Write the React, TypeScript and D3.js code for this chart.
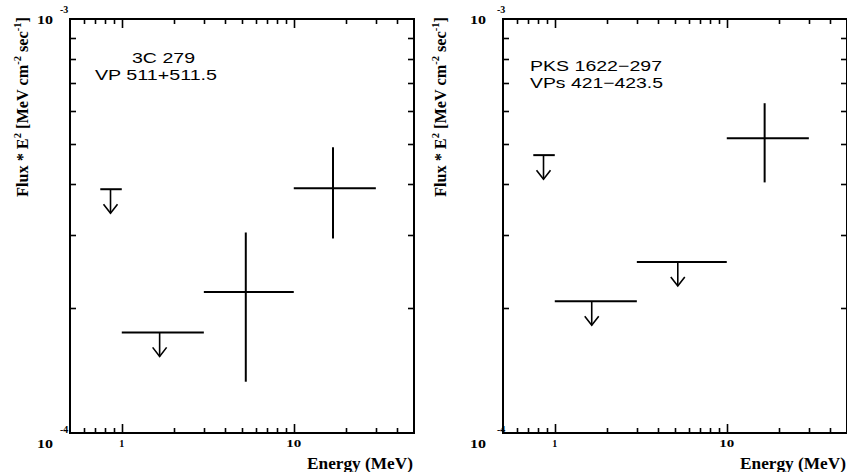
import React from 'react';
import * as d3 from 'd3';

const W = 847;
const H = 472;

// energy bins (MeV)
const binLow = [0.75, 1, 3, 10];
const binHigh = [1, 3, 10, 30];

// 3C 279, VP 511+511.5
const c279Energy = [0.86, 1.66, 5.26, 16.9];
const c279Flux = [3.88e-4, 1.75e-4, 2.19e-4, 3.9e-4];
const c279ErrHigh: (number | null)[] = [null, null, 3.05e-4, 4.9e-4];
const c279ErrLow: (number | null)[] = [null, null, 1.33e-4, 2.95e-4];
const c279Limit = [true, true, false, false];

// PKS 1622-297, VPs 421-423.5
const pksEnergy = [0.86, 1.64, 5.19, 16.6];
const pksFlux = [4.69e-4, 2.08e-4, 2.59e-4, 5.15e-4];
const pksErrHigh: (number | null)[] = [null, null, null, 6.26e-4];
const pksErrLow: (number | null)[] = [null, null, null, 4.03e-4];
const pksLimit = [true, true, true, false];

const xDomain = [0.5, 50];
const yDomain = [1e-4, 1e-3];
const xTickValues = [1, 10];
const xTickLabels = ['1', '10'];
const yTickExponents = ['-4', '-3'];
const c279Labels = ['3C 279', 'VP 511+511.5'];
const pksLabels = ['PKS 1622\u2212297', 'VPs 421\u2212423.5'];
const xTitle = 'Energy (MeV)';

const SERIF = '"Liberation Serif", "Times New Roman", serif';
const SANS = '"Liberation Sans", Arial, sans-serif';

type PanelProps = {
  x0: number;
  energy: number[];
  flux: number[];
  errHigh: (number | null)[];
  errLow: (number | null)[];
  limit: boolean[];
  labels: string[];
  labelPos: { x: number; y: number; len: number }[];
  yLabelX: number;
  yExpDx: number;
};

const TOP = 19;
const BOTTOM = 433;
const PW = 344;

function Panel(p: PanelProps) {
  const x = d3.scaleLog().domain(xDomain).range([p.x0, p.x0 + PW]);
  const y = d3.scaleLog().domain(yDomain).range([BOTTOM, TOP]);
  const x1 = p.x0 + PW;
  const xt = x.ticks(10).filter((t) => t > xDomain[0] * 1.001 && t < xDomain[1] * 0.999);
  const yt = y.ticks(10).filter((t) => t > yDomain[0] * 1.001 && t < yDomain[1] * 0.999);
  const isMajor = (t: number) => xTickValues.some((v) => Math.abs(v - t) < 1e-9);
  const sw = 2;
  return (
    <g>
      {/* x ticks */}
      {xt.map((t, i) => {
        const L = isMajor(t) ? 8 : 4;
        const xx = Math.round(x(t)) + 0.5;
        return (
          <g key={'xt' + i}>
            <line x1={xx} x2={xx} y1={BOTTOM} y2={BOTTOM - 1 - L} stroke="#000" strokeWidth={1.6} />
            <line x1={xx} x2={xx} y1={TOP} y2={TOP + 1 + L} stroke="#000" strokeWidth={1.6} />
          </g>
        );
      })}
      {/* y ticks */}
      {yt.map((t, i) => {
        const yy = Math.round(y(t)) + 0.5;
        return (
          <g key={'yt' + i}>
            <line x1={p.x0} x2={p.x0 + 6} y1={yy} y2={yy} stroke="#000" strokeWidth={1.6} />
            <line x1={x1} x2={x1 - 6} y1={yy} y2={yy} stroke="#000" strokeWidth={1.6} />
          </g>
        );
      })}
      {/* frame */}
      <rect x={p.x0} y={TOP} width={PW} height={BOTTOM - TOP} fill="none" stroke="#000" strokeWidth={2} />
      {/* x tick labels */}
      {xTickValues.map((v, i) => (
        <text
          key={'xl' + i}
          x={x(v)}
          y={447}
          textAnchor="middle"
          fontFamily={SERIF}
          fontWeight="bold"
          fontSize={11}
          textLength={xTickLabels[i].length === 1 ? 5 : 15}
          lengthAdjust="spacingAndGlyphs"
        >
          {xTickLabels[i]}
        </text>
      ))}
      <text
        x={x1 - 1}
        y={469}
        textAnchor="end"
        fontFamily={SERIF}
        fontWeight="bold"
        fontSize={16}
        textLength={106}
        lengthAdjust="spacingAndGlyphs"
      >
        {xTitle}
      </text>
      {/* y tick labels 10^-4, 10^-3 */}
      {yDomain.map((v, i) => (
        <g key={'yl' + i}>
          <text
            x={p.x0 - 17}
            y={y(v) + (i === 0 ? 15 : 5)}
            textAnchor="end"
            fontFamily={SERIF}
            fontWeight="bold"
            fontSize={12}
            textLength={16}
            lengthAdjust="spacingAndGlyphs"
          >
            10
          </text>
          <text
            x={p.x0 - p.yExpDx}
            y={y(v) + (i === 0 ? 0 : -6)}
            fontFamily={SERIF}
            fontWeight="bold"
            fontSize={10}
          >
            {yTickExponents[i]}
          </text>
        </g>
      ))}
      {/* y axis title */}
      <text
        transform={`translate(${p.yLabelX},107) rotate(-90)`}
        textAnchor="middle"
        fontFamily={SERIF}
        fontWeight="bold"
        fontSize={17}
        textLength={180}
        lengthAdjust="spacingAndGlyphs"
      >
        <tspan>Flux * E</tspan>
        <tspan fontSize={11} dy={-7}>2</tspan>
        <tspan dy={7}> [MeV cm</tspan>
        <tspan fontSize={11} dy={-7}>-2</tspan>
        <tspan dy={7}> sec</tspan>
        <tspan fontSize={11} dy={-7}>-1</tspan>
        <tspan dy={7}>]</tspan>
      </text>
      {/* annotations */}
      {p.labels.map((s, i) => (
        <text
          key={'an' + i}
          x={p.labelPos[i].x}
          y={p.labelPos[i].y}
          fontFamily={SANS}
          fontSize={15}
          textLength={p.labelPos[i].len}
          lengthAdjust="spacingAndGlyphs"
        >
          {s}
        </text>
      ))}
      {/* data */}
      {p.flux.map((f, i) => {
        const yy = y(f);
        const xc = x(p.energy[i]);
        const hb = (
          <line x1={x(binLow[i])} x2={x(binHigh[i])} y1={yy} y2={yy} stroke="#000" strokeWidth={sw} />
        );
        if (p.limit[i]) {
          const tip = yy + 24;
          return (
            <g key={'d' + i}>
              {hb}
              <line x1={xc} x2={xc} y1={yy} y2={tip} stroke="#000" strokeWidth={1.6} />
              <path
                d={`M${xc - 7},${tip - 9} L${xc},${tip} L${xc + 7},${tip - 9}`}
                fill="none"
                stroke="#000"
                strokeWidth={1.6}
              />
            </g>
          );
        }
        return (
          <g key={'d' + i}>
            {hb}
            <line
              x1={xc}
              x2={xc}
              y1={y(p.errHigh[i] as number)}
              y2={y(p.errLow[i] as number)}
              stroke="#000"
              strokeWidth={sw}
            />
          </g>
        );
      })}
    </g>
  );
}

export default function App() {
  return (
    <svg
      width={W}
      height={H}
      style={{ position: 'absolute', left: 0, top: 0, background: '#fff' }}
    >
      <rect width={W} height={H} fill="#fff" />
      <Panel
        x0={70}
        energy={c279Energy}
        flux={c279Flux}
        errHigh={c279ErrHigh}
        errLow={c279ErrLow}
        limit={c279Limit}
        labels={c279Labels}
        labelPos={[
          { x: 132, y: 63, len: 63 },
          { x: 95, y: 80, len: 122 },
        ]}
        yLabelX={28}
        yExpDx={10}
      />
      <Panel
        x0={503}
        energy={pksEnergy}
        flux={pksFlux}
        errHigh={pksErrHigh}
        errLow={pksErrLow}
        limit={pksLimit}
        labels={pksLabels}
        labelPos={[
          { x: 530, y: 71, len: 132 },
          { x: 530, y: 88, len: 133 },
        ]}
        yLabelX={446}
        yExpDx={6}
      />
    </svg>
  );
}
